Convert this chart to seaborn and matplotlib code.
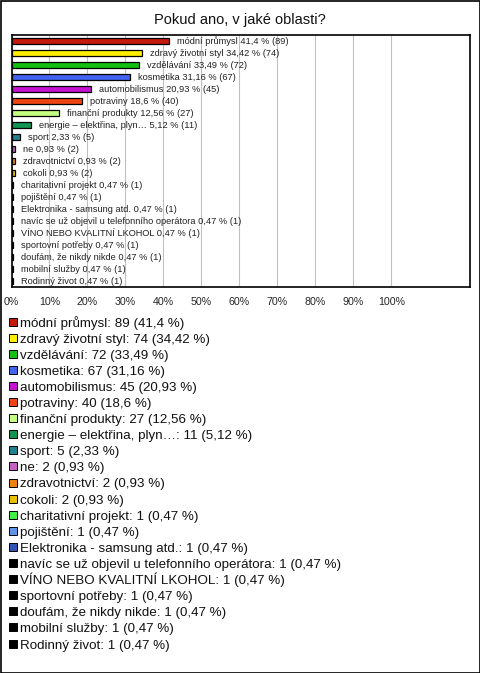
import matplotlib
matplotlib.use("Agg")
import matplotlib.pyplot as plt
import seaborn as sns
import pandas as pd
from matplotlib.patches import Rectangle

categories = [
    "módní průmysl", "zdravý životní styl", "vzdělávání", "kosmetika",
    "automobilismus", "potraviny", "finanční produkty",
    "energie – elektřina, plyn…", "sport", "ne", "zdravotnictví", "cokoli",
    "charitativní projekt", "pojištění", "Elektronika - samsung atd.",
    "navíc se už objevil u telefonního operátora",
    "VÍNO NEBO KVALITNÍ LKOHOL", "sportovní potřeby",
    "doufám, že nikdy nikde", "mobilní služby", "Rodinný život",
]
counts = [89, 74, 72, 67, 45, 40, 27, 11, 5, 2, 2, 2, 1, 1, 1, 1, 1, 1, 1, 1, 1]
percents = [41.4, 34.42, 33.49, 31.16, 20.93, 18.6, 12.56, 5.12, 2.33, 0.93,
            0.93, 0.93, 0.47, 0.47, 0.47, 0.47, 0.47, 0.47, 0.47, 0.47, 0.47]
colors = ["#c41a0c", "#ffee00", "#12c012", "#4262f0", "#c412d0", "#f04412",
          "#c4ff84", "#109452", "#208290", "#c462c4", "#f08012", "#e8c000",
          "#44f044", "#6292e8", "#3252b4", "#000000", "#000000", "#000000",
          "#000000", "#000000", "#000000"]
xticks = [0, 10, 20, 30, 40, 50, 60, 70, 80, 90, 100]

def fmt(v):
    return str(v).replace(".", ",")

df = pd.DataFrame({"cat": categories, "pct": percents})

sns.set_theme(style="white")
plt.rcParams["font.family"] = ["Liberation Sans", "DejaVu Sans"]

W, H = 480, 673
fig = plt.figure(figsize=(W / 100, H / 100), dpi=100)
ax = fig.add_axes([11.5 / W, 1 - 287 / H, 458.5 / W, 252 / H])

sns.barplot(data=df, y="cat", x="pct", hue="cat", palette=colors,
            orient="h", legend=False, ax=ax, width=0.42,
            edgecolor="black", linewidth=0.9, saturation=1, zorder=3)

for i, (c, n, p) in enumerate(zip(categories, counts, percents)):
    ax.text(p + 2.1, i, f"{c} {fmt(p)} % ({n})", va="center", ha="left",
            fontsize=6.7, color="#222222", zorder=4)

ax.set_xlim(0, 120.7)
ax.set_ylim(20.5, -0.5)
ax.set_xticks(xticks)
ax.set_xticklabels([f"{t}%" for t in xticks], fontsize=7.7)
ax.set_yticks([])
ax.set_xlabel("")
ax.set_ylabel("")
ax.tick_params(axis="x", length=0, pad=7)
ax.grid(axis="x", color="#c0c0c0", linewidth=0.8, zorder=0)
ax.grid(axis="y", visible=False)
for s in ax.spines.values():
    s.set_color("black")
    s.set_linewidth(1.2)

fig.text(0.5, 1 - 20 / H, "Pokud ano, v jaké oblasti?", ha="center",
         va="center", fontsize=10.5, color="#111111")

# legend rows
for i, (c, n, p, col) in enumerate(zip(categories, counts, percents, colors)):
    yc = 321.5 + 16.1 * i
    fig.patches.append(Rectangle((9 / W, 1 - (yc + 4) / H), 8 / W, 8 / H,
                                 transform=fig.transFigure, facecolor=col,
                                 edgecolor="black", linewidth=0.7))
    fig.text(19.5 / W, 1 - (yc + 5) / H, f"{c}: {n} ({fmt(p)} %)",
             ha="left", va="baseline", fontsize=9.6, color="#111111")

fig.patches.append(Rectangle((0.5 / W, 0.5 / H), 479 / W, 672 / H,
                             transform=fig.transFigure, fill=False,
                             edgecolor="black", linewidth=1.2))

fig.savefig("out.png", dpi=100)
